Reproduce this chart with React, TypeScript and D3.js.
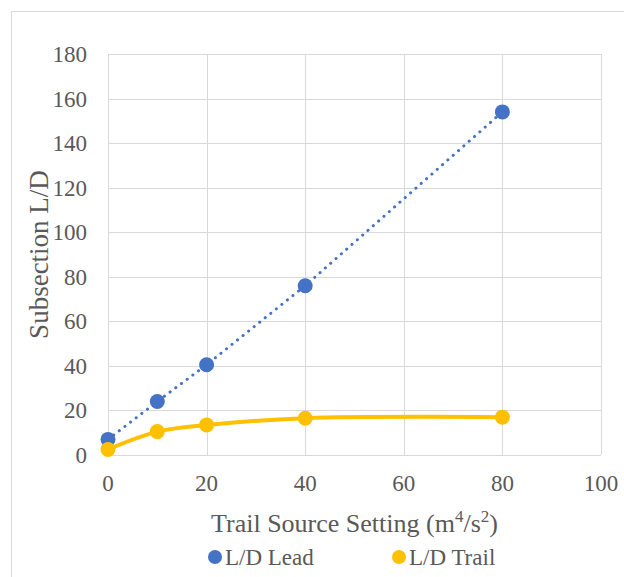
import React, { useEffect, useRef } from 'react';
import * as d3 from 'd3';

// Values
const sourceSettings = [0, 10, 20, 40, 80];
const leadValues = [7, 24, 40.5, 76, 154];
const trailValues = [2.5, 10.5, 13.5, 16.5, 17];
const xTicks = [0, 20, 40, 60, 80, 100];
const yTicks = [0, 20, 40, 60, 80, 100, 120, 140, 160, 180];

const BLUE = '#4472C4';
const GOLD = '#FFC000';
const FONT = 'Liberation Serif, DejaVu Serif, serif';

const App = () => {
  const ref = useRef<SVGSVGElement>(null);

  useEffect(() => {
    const svg = d3.select(ref.current);
    svg.selectAll('*').remove();

    const margin = { left: 108, right: 23, top: 54, bottom: 122 };
    const W = 624, H = 577;
    const x = d3.scaleLinear().domain([0, 100]).range([margin.left, W - margin.right]);
    const y = d3.scaleLinear().domain([0, 180]).range([H - margin.bottom, margin.top]);

    // outer chart frame
    svg.append('rect')
      .attr('x', 11.5).attr('y', 11.5)
      .attr('width', 640).attr('height', 600)
      .attr('fill', '#fff').attr('stroke', '#d9d9d9');

    // grid
    const grid = svg.append('g').attr('stroke', '#d9d9d9').attr('stroke-width', 1);
    grid.selectAll('.h').data(yTicks).enter().append('line')
      .attr('x1', x(0)).attr('x2', x(100))
      .attr('y1', d => Math.round(y(d)) + 0.5).attr('y2', d => Math.round(y(d)) + 0.5);
    grid.selectAll('.v').data(xTicks).enter().append('line')
      .attr('y1', y(0)).attr('y2', y(180))
      .attr('x1', d => Math.round(x(d)) + 0.5).attr('x2', d => Math.round(x(d)) + 0.5);

    // tick labels
    svg.append('g').selectAll('text').data(yTicks).enter().append('text')
      .attr('x', x(0) - 21).attr('y', d => y(d)).attr('dy', '0.35em')
      .attr('text-anchor', 'end')
      .style('font-family', FONT).attr('font-size', 23).attr('fill', '#595959')
      .text(d => d);
    svg.append('g').selectAll('text').data(xTicks).enter().append('text')
      .attr('x', d => x(d)).attr('y', y(0) + 36)
      .attr('text-anchor', 'middle')
      .style('font-family', FONT).attr('font-size', 23).attr('fill', '#595959')
      .text(d => d);

    // axis titles
    const xt = svg.append('text')
      .attr('x', (x(0) + x(100)) / 2).attr('y', 532)
      .attr('text-anchor', 'middle')
      .style('font-family', FONT).attr('font-size', 26).attr('fill', '#595959');
    xt.append('tspan').text('Trail Source Setting (m');
    xt.append('tspan').attr('font-size', 17).attr('dy', -10).text('4');
    xt.append('tspan').attr('dy', 10).text('/s');
    xt.append('tspan').attr('font-size', 17).attr('dy', -10).text('2');
    xt.append('tspan').attr('dy', 10).text(')');

    svg.append('text')
      .attr('transform', `translate(48,${(y(0) + y(180)) / 2}) rotate(-90)`)
      .attr('text-anchor', 'middle')
      .style('font-family', FONT).attr('font-size', 27).attr('fill', '#595959')
      .text('Subsection L/D');

    const lead = sourceSettings.map((s, i) => [s, leadValues[i]] as [number, number]);
    const trail = sourceSettings.map((s, i) => [s, trailValues[i]] as [number, number]);

    // lead: dotted line
    svg.append('path')
      .datum(lead)
      .attr('d', d3.line().x(d => x(d[0])).y(d => y(d[1])))
      .attr('fill', 'none').attr('stroke', BLUE)
      .attr('stroke-width', 3).attr('stroke-linecap', 'round')
      .attr('stroke-dasharray', '0.1,7');

    // trail: smoothed line
    svg.append('path')
      .datum(trail)
      .attr('d', d3.line().x(d => x(d[0])).y(d => y(d[1])).curve(d3.curveCatmullRom.alpha(0.5)))
      .attr('fill', 'none').attr('stroke', GOLD).attr('stroke-width', 4);

    svg.append('g').selectAll('circle').data(lead).enter().append('circle')
      .attr('cx', d => x(d[0])).attr('cy', d => y(d[1])).attr('r', 7.5).attr('fill', BLUE);
    svg.append('g').selectAll('circle').data(trail).enter().append('circle')
      .attr('cx', d => x(d[0])).attr('cy', d => y(d[1])).attr('r', 7.5).attr('fill', GOLD);

    // legend
    const legend = [
      { name: 'L/D Lead', color: BLUE, cx: 215 },
      { name: 'L/D Trail', color: GOLD, cx: 399 },
    ];
    const lg = svg.append('g').selectAll('g').data(legend).enter().append('g');
    lg.append('circle').attr('cx', d => d.cx).attr('cy', 557).attr('r', 7).attr('fill', d => d.color);
    lg.append('text').attr('x', d => d.cx + 10).attr('y', 565)
      .style('font-family', FONT).attr('font-size', 23).attr('fill', '#595959')
      .text(d => d.name);
  }, []);

  return (
    <svg ref={ref} width={624} height={577}
      style={{ position: 'absolute', left: 0, top: 0, background: '#fff' }} />
  );
};

export default App;
